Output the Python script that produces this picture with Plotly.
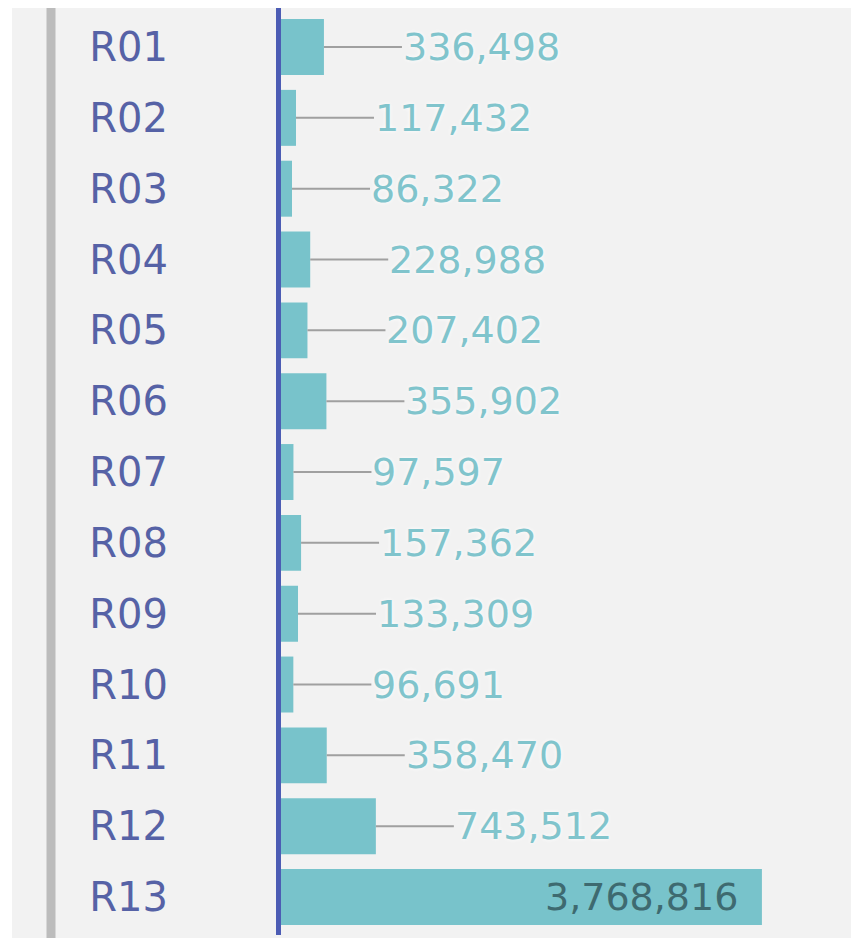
import plotly.graph_objects as go

categories = ["R01", "R02", "R03", "R04", "R05", "R06", "R07",
              "R08", "R09", "R10", "R11", "R12", "R13"]
values = [336498, 117432, 86322, 228988, 207402, 355902, 97597,
          157362, 133309, 96691, 358470, 743512, 3768816]

BAR_COLOR = "#78c3cb"
OUT_TEXT = "#80c4cc"
IN_TEXT = "#3e6a70"
CAT_COLOR = "#5662a6"
W, H = 843, 938
L, R, T, B = 273, 0, 0, 11
PW = W - L - R

fig = go.Figure()
fig.add_trace(go.Bar(
    x=values, y=categories, orientation="h",
    marker=dict(color=BAR_COLOR, line=dict(width=0)),
    hoverinfo="x+y",
))

vmax = max(values)
annotations = []
for c, v in zip(categories, values):
    label = f"{v:,}"
    if v >= 0.5 * vmax:
        annotations.append(dict(
            x=v, y=c, xref="x", yref="y", text=label, showarrow=False,
            xanchor="right", xshift=-22,
            font=dict(family="DejaVu Sans", size=38, color=IN_TEXT),
        ))
    else:
        annotations.append(dict(
            x=v, y=c, xref="x", yref="y", text=label, showarrow=True,
            arrowhead=0, arrowwidth=2, arrowcolor="#a0a0a0",
            ax=78, ay=0, xanchor="left", borderpad=0,
            font=dict(family="DejaVu Sans", size=38, color=OUT_TEXT,
                      shadow="0px 0px 4px #ffffff"),
        ))

def px_to_paper(px):
    return (px - L) / PW

shapes = [
    dict(type="rect", xref="paper", yref="paper",
         x0=px_to_paper(4), x1=1.0, y0=-0.02, y1=1.0,
         fillcolor="#f2f2f2", line=dict(width=0), layer="below"),
    dict(type="line", xref="paper", yref="paper",
         x0=px_to_paper(43), x1=px_to_paper(43), y0=-0.02, y1=1.0,
         line=dict(color="#bcbcbc", width=9), layer="below"),
]

fig.update_layout(
    width=W, height=H,
    margin=dict(l=L, r=R, t=T, b=B, pad=0),
    paper_bgcolor="#ffffff",
    plot_bgcolor="#f2f2f2",
    bargap=0.21,
    showlegend=False,
    annotations=annotations,
    shapes=shapes,
    xaxis=dict(range=[0, 4.467e6], visible=False, showgrid=False, zeroline=False),
    yaxis=dict(
        type="category", range=[12.536, -0.551],
        showline=True, linecolor="#4c5cb4", linewidth=5,
        showgrid=False, zeroline=False, ticks="",
        ticklabelstandoff=100,
        tickfont=dict(family="DejaVu Sans", size=40, color=CAT_COLOR),
    ),
)

fig.write_html("out.html")
